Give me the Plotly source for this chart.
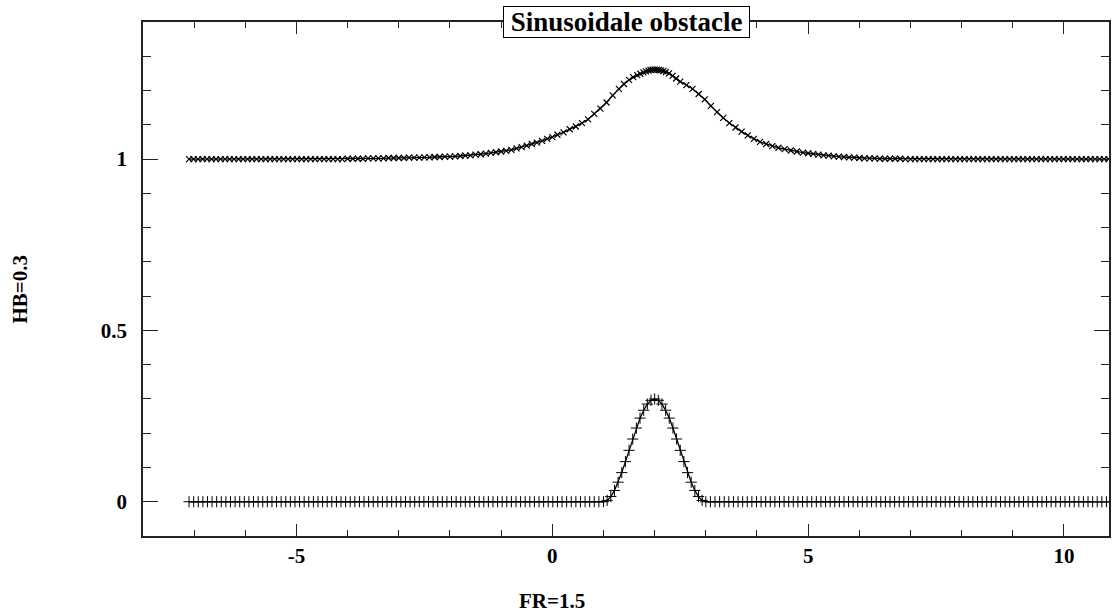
import numpy as np
import plotly.graph_objects as go

# ---- data ----
# bottom (obstacle) curve: flat, sinusoidal bump between 1 and 3, flat
bottom_left_x = np.arange(-7.1, 0.99, 0.09)
bottom_left_y = [0.0] * len(bottom_left_x)
bottom_bump_x = np.linspace(1.0, 3.0, 29)
bottom_bump_y = [0.0, 0.004, 0.015, 0.033, 0.057, 0.085, 0.117, 0.150, 0.183, 0.215,
                 0.244, 0.267, 0.285, 0.296, 0.300, 0.296, 0.285, 0.267, 0.244, 0.215,
                 0.183, 0.150, 0.117, 0.085, 0.057, 0.033, 0.015, 0.004, 0.0]
bottom_right_x = np.arange(3.09, 11.2, 0.09)
bottom_right_y = [0.0] * len(bottom_right_x)

# top (free surface) curve
top_left_x = np.arange(-7.1, -4.05, 0.088)
top_left_y = [1.0] * len(top_left_x)
top_hump_x = [-4.0, -3.9, -3.8, -3.7, -3.6, -3.5, -3.4, -3.3, -3.2, -3.1, -3.0, -2.9,
              -2.8, -2.7, -2.6, -2.5, -2.4, -2.3, -2.2, -2.1,
              -2.0, -1.9, -1.8, -1.7, -1.6, -1.5, -1.4, -1.3, -1.2, -1.1, -1.0, -0.9,
              -0.8, -0.7, -0.6, -0.5, -0.4, -0.3, -0.2, -0.1, 0.0, 0.1, 0.22, 0.34,
              0.46, 0.58, 0.70, 0.82, 0.94, 1.06, 1.18, 1.30, 1.40, 1.50, 1.58, 1.66,
              1.72, 1.78, 1.83, 1.88, 1.92, 1.96, 2.00, 2.04, 2.08, 2.12, 2.17, 2.22,
              2.28, 2.35, 2.42, 2.50, 2.62, 2.74, 2.86, 2.98, 3.10, 3.22, 3.34, 3.46,
              3.58, 3.70, 3.82, 3.94, 4.06, 4.18, 4.30, 4.42, 4.54, 4.66, 4.78, 4.90,
              5.0, 5.1, 5.2, 5.3, 5.4, 5.5, 5.6, 5.7, 5.8, 5.9, 6.0,
              6.1, 6.2, 6.3, 6.4, 6.5, 6.6, 6.7, 6.8, 6.9]
top_hump_y = [1.001, 1.001, 1.001, 1.001, 1.002, 1.002, 1.002, 1.002, 1.003, 1.003, 1.003, 1.003,
              1.004, 1.004, 1.004, 1.005, 1.005, 1.006, 1.006, 1.007,
              1.007, 1.008, 1.009, 1.010, 1.011, 1.013, 1.014, 1.016, 1.018, 1.020, 1.022, 1.024,
              1.027, 1.031, 1.035, 1.039, 1.044, 1.048, 1.053, 1.059, 1.064, 1.071, 1.078, 1.087,
              1.095, 1.105, 1.116, 1.132, 1.147, 1.165, 1.186, 1.205, 1.219, 1.231, 1.239, 1.245,
              1.249, 1.253, 1.256, 1.258, 1.260, 1.261, 1.261, 1.261, 1.260, 1.259, 1.257, 1.254,
              1.250, 1.243, 1.235, 1.226, 1.216, 1.205, 1.190, 1.174, 1.155, 1.137, 1.120, 1.105,
              1.092, 1.080, 1.069, 1.059, 1.050, 1.044, 1.038, 1.033, 1.029, 1.025, 1.022, 1.019,
              1.017, 1.015, 1.013, 1.011, 1.010, 1.008, 1.007, 1.006, 1.005, 1.004, 1.003,
              1.002, 1.002, 1.002, 1.001, 1.001, 1.001, 1.001, 1.001, 1.000]
top_right_x = np.arange(7.0, 11.2, 0.088)
top_right_y = [1.0] * len(top_right_x)

x_ticks = [-5, 0, 5, 10]
y_ticks = [0, 0.5, 1]
title_text = "Sinusoidale obstacle"
x_title = "FR=1.5"
y_title = "HB=0.3"

bottom_x = list(bottom_left_x) + list(bottom_bump_x) + list(bottom_right_x)
bottom_y = list(bottom_left_y) + list(bottom_bump_y) + list(bottom_right_y)
top_x = list(top_left_x) + top_hump_x + list(top_right_x)
top_y = list(top_left_y) + top_hump_y + list(top_right_y)

FONT = "Liberation Serif"

fig = go.Figure()
fig.add_trace(go.Scatter(
    x=top_x, y=top_y, mode="lines+markers",
    line=dict(color="black", width=1.3),
    marker=dict(symbol="x-thin", size=6, line=dict(color="black", width=1.2)),
    cliponaxis=True, showlegend=False))
fig.add_trace(go.Scatter(
    x=bottom_x, y=bottom_y, mode="lines+markers",
    line=dict(color="black", width=1.3),
    marker=dict(symbol="cross-thin", size=8, line=dict(color="black", width=1)),
    cliponaxis=True, showlegend=False))

axis_common = dict(
    showgrid=False, zeroline=False, showline=True, linecolor="#222", linewidth=1.6,
    mirror="ticks", ticks="inside", tickcolor="#222",
    tickfont=dict(family=FONT, size=21, color="black", weight="bold"),
)
fig.update_xaxes(
    range=[-8, 10.88], tickvals=x_ticks, ticktext=[str(v) for v in x_ticks],
    ticklen=12, tickwidth=1.2,
    minor=dict(dtick=1, ticks="inside", ticklen=6, tickcolor="#222", tickwidth=1.2),
    **axis_common)
fig.update_yaxes(
    range=[-0.1, 1.4], tickvals=y_ticks, ticktext=["0", "0.5", "1"],
    ticklen=15, tickwidth=1.2, ticklabelstandoff=10,
    minor=dict(dtick=0.1, ticks="inside", ticklen=8, tickcolor="#222", tickwidth=1.2),
    **axis_common)

fig.add_annotation(
    text="&nbsp;<b>%s</b>&nbsp;" % title_text, xref="paper", yref="paper", x=0.5, y=1.0,
    xanchor="center", yanchor="middle", showarrow=False,
    font=dict(family=FONT, size=27, color="black"),
    bgcolor="white", bordercolor="black", borderwidth=1, borderpad=0)
fig.add_annotation(
    text="<b>%s</b>" % x_title, xref="x", yref="paper", x=0, y=-0.126,
    xanchor="center", yanchor="middle", showarrow=False,
    font=dict(family=FONT, size=21, color="black"))
fig.add_annotation(
    text="<b>%s</b>" % y_title, xref="paper", yref="paper", x=-0.127, y=0.48,
    xanchor="center", yanchor="middle", showarrow=False, textangle=-90,
    font=dict(family=FONT, size=21, color="black"))

fig.update_layout(
    width=1113, height=614,
    margin=dict(l=143, r=2, t=22, b=78),
    paper_bgcolor="white", plot_bgcolor="white",
    font=dict(family=FONT, size=21, color="black"),
)

fig.write_html("out.html")
